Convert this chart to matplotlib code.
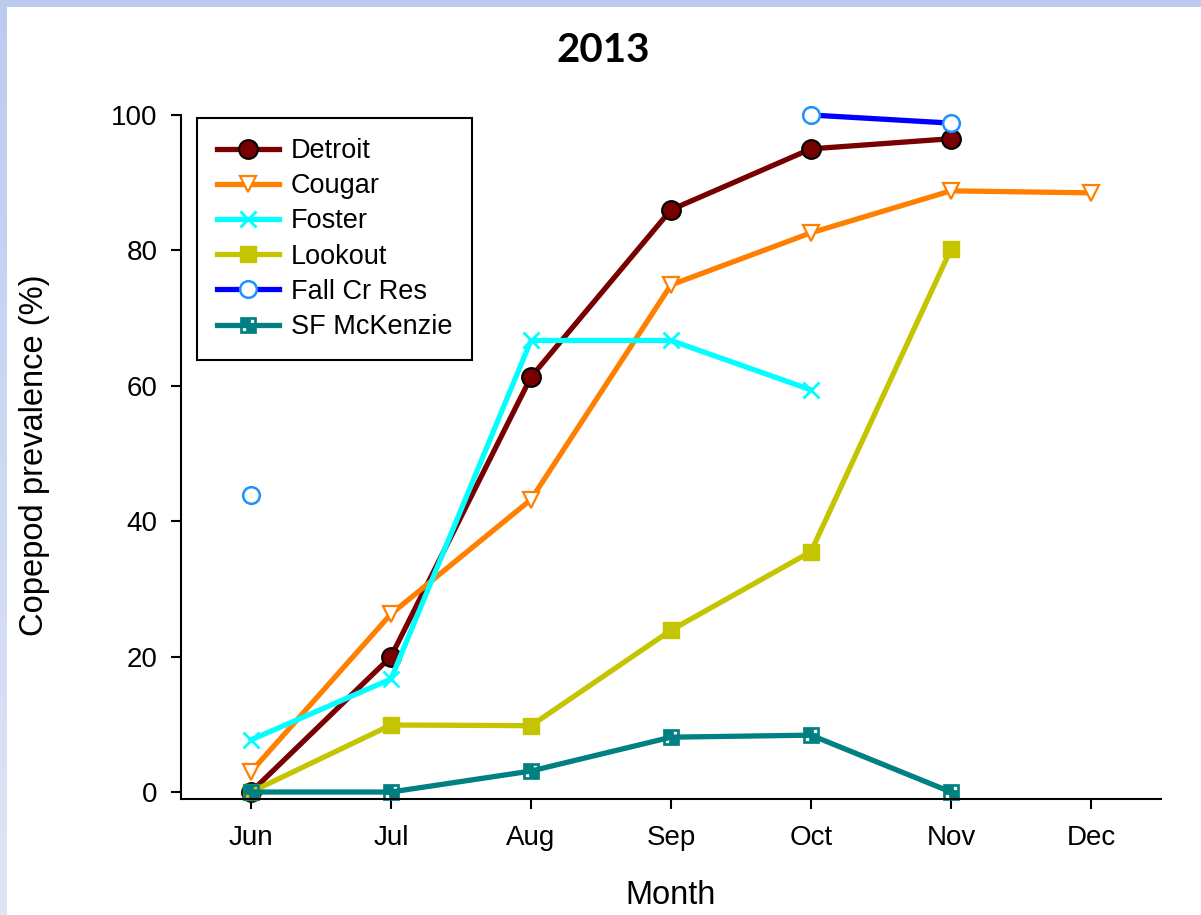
import numpy as np
import matplotlib
matplotlib.use("Agg")
import matplotlib.pyplot as plt
from matplotlib.path import Path

plt.rcParams['font.family'] = ['Liberation Sans', 'DejaVu Sans']

months = ["Jun", "Jul", "Aug", "Sep", "Oct", "Nov", "Dec"]
nan = np.nan

detroit = [0, 20.0, 61.3, 86.0, 95.0, 96.5, nan]
cougar = [3.0, 26.3, 43.2, 74.9, 82.6, 88.8, 88.5]
foster = [7.7, 16.7, 66.7, 66.7, 59.4, nan, nan]
lookout = [0, 9.9, 9.8, 23.9, 35.5, 80.2, nan]
fall_cr = [43.8, nan, nan, nan, 100.0, 98.8, nan]
sf_mckenzie = [0, 0, 3.1, 8.1, 8.4, 0, nan]


def square_with_holes():
    """Filled square with two small white squares cut out of opposite corners."""
    outer = [(-1, -1), (1, -1), (1, 1), (-1, 1), (-1, -1)]
    hole1 = [(0.2, 0.2), (0.2, 0.8), (0.8, 0.8), (0.8, 0.2), (0.2, 0.2)]
    hole2 = [(-0.8, -0.8), (-0.8, -0.2), (-0.2, -0.2), (-0.2, -0.8), (-0.8, -0.8)]
    verts, codes = [], []
    for ring in (outer, hole1, hole2):
        verts += ring
        codes += [Path.MOVETO] + [Path.LINETO] * 3 + [Path.CLOSEPOLY]
    return Path(verts, codes)


def plotPrevalence():
    fig = plt.figure(figsize=(12.01, 9.15), dpi=100)

    # slide frame along the top and left edges
    band = fig.add_axes([0, 0, 7 / 1201, 1])
    band.imshow(np.linspace(0, 1, 100).reshape(-1, 1), aspect='auto',
                cmap=matplotlib.colors.LinearSegmentedColormap.from_list(
                    "frame", ["#BCCCF0", "#DEE5F6"]), extent=[0, 1, 1, 0])
    band.axis('off')
    top = fig.add_axes([0, 1 - 7 / 915, 1, 7 / 915])
    top.set_facecolor("#BCCCF0")
    top.set_xticks([])
    top.set_yticks([])
    for s in top.spines.values():
        s.set_visible(False)

    ax = fig.add_axes([181 / 1201, (915 - 799) / 915, 980 / 1201, 684 / 915])
    x = np.arange(1, len(months) + 1)
    lw = 3.8

    ax.plot(x, detroit, color="#780000", lw=lw, marker="o", ms=13.5,
            mfc="#780000", mec="black", mew=1.5, label="Detroit", clip_on=False)
    ax.plot(x, cougar, color="#FF8000", lw=lw, marker="v", ms=12,
            mfc="white", mec="#FF8000", mew=1.6, label="Cougar", clip_on=False)
    ax.plot(x, foster, color="#00FFFF", lw=lw, marker="x", ms=12,
            mec="#00FFFF", mew=2, label="Foster", clip_on=False)
    ax.plot(x, lookout, color="#C4C400", lw=lw, marker="s", ms=11,
            mfc="#C4C400", mec="#C4C400", label="Lookout", clip_on=False)
    ax.plot(x, fall_cr, color="#0000FF", lw=lw, marker="o", ms=12,
            mfc="white", mec="#1E90FF", mew=1.8, label="Fall Cr Res", clip_on=False)
    ax.plot(x, sf_mckenzie, color="#008080", lw=lw, marker=square_with_holes(),
            ms=11, mfc="#008080", mec="#008080", mew=0.5, label="SF McKenzie",
            clip_on=False)

    ax.set_xlim(0.5, 7.5)
    ax.set_ylim(-1.03, 100.0)
    ax.set_xticks(x)
    ax.set_xticklabels(months)
    ax.set_yticks([0, 20, 40, 60, 80, 100])
    ax.spines['top'].set_visible(False)
    ax.spines['right'].set_visible(False)
    for s in ('left', 'bottom'):
        ax.spines[s].set_linewidth(1.5)
    ax.tick_params(axis='both', direction='out', length=7, width=1.5,
                   labelsize=20)
    ax.tick_params(axis='x', pad=12)
    ax.tick_params(axis='y', pad=10)

    fig.text(603 / 1201, 1 - 50 / 915, "2013", fontsize=29, fontweight='bold',
             family='Lato', ha='center', va='center')
    fig.text(671 / 1201, 1 - 895 / 915, "Month", fontsize=23.5,
             ha='center', va='center')
    fig.text(35 / 1201, 1 - 455 / 915, "Copepod prevalence (%)", fontsize=23.5,
             rotation=90, ha='center', va='center')

    leg = ax.legend(loc='upper left', bbox_to_anchor=(0.0163, 0.9956),
                    borderaxespad=0, fontsize=19.5, fancybox=False,
                    edgecolor='black', framealpha=1, handlelength=2.3,
                    handletextpad=0.42, labelspacing=0.34, borderpad=0.74)
    leg.get_frame().set_linewidth(1.5)

    fig.savefig("out.png", dpi=100)


if __name__ == "__main__":
    plotPrevalence()
